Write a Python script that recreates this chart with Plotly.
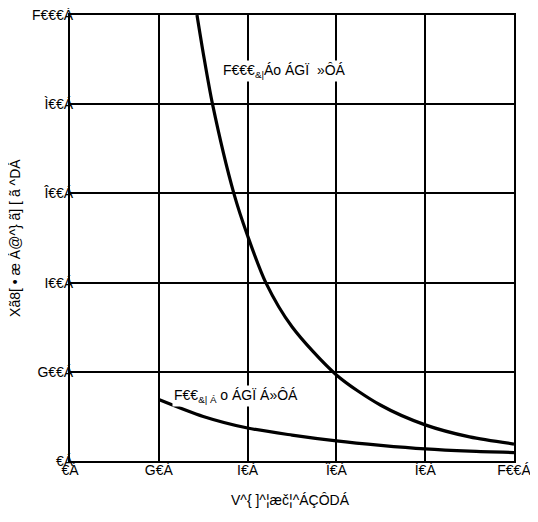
import plotly.graph_objects as go

# Upper curve (label "F€€€&|Áo ÁGÏ »ÔÁ")
upper_x = [28.6, 30.0, 32.1, 36.9, 40.0, 44.1, 50.0, 60.0, 70.0, 80.0, 90.0, 100.0]
upper_y = [1000, 915, 800, 600, 505, 400, 301, 193, 125, 81, 54, 38]

# Lower curve (label "F€€&|Á o ÁGÏ Á»ÔÁ")
lower_x = [20, 30, 40, 50, 60, 70, 80, 90, 100]
lower_y = [138, 100, 74, 58, 45, 35, 27, 22, 19]

x_tickvals = [0, 20, 40, 60, 80, 100]
x_ticktext = ["€Á", "G€Á", "I€Á", "Î€Á", "Ì€Á", "F€€Á"]
y_tickvals = [0, 200, 400, 600, 800, 1000]
y_ticktext = ["€Á", "G€€Á", "I€€Á", "Î€€Á", "Ì€€Á", "F€€€Á"]

x_title = "V^{ ]^¦æč¦^ÁÇÔDÁ"
y_title = "Xã8[ • æ Á@^} ã] [ ã ^DÁ"
label_upper = "F€€€<sub>&|</sub>Áo ÁGÏ  »ÔÁ"
label_lower = "F€€<sub>&| Á</sub> o ÁGÏ Á»ÔÁ"

FONT = "Liberation Sans, Arial, sans-serif"
TXT = dict(family=FONT, size=14, color="black")

fig = go.Figure()
fig.add_trace(go.Scatter(x=upper_x, y=upper_y, mode="lines",
                         line=dict(color="black", width=3.2, shape="spline", smoothing=0.8),
                         showlegend=False))
fig.add_trace(go.Scatter(x=lower_x, y=lower_y, mode="lines",
                         line=dict(color="black", width=3.2, shape="spline", smoothing=0.8),
                         showlegend=False))

fig.add_annotation(x=48.4, y=874, text=label_upper, showarrow=False,
                   font=TXT, bgcolor="white")
fig.add_annotation(x=37.4, y=146, text=label_lower, showarrow=False,
                   font=TXT, bgcolor="white")

# axis titles
fig.add_annotation(xref="paper", yref="paper", x=0.497, y=-0.087, text=x_title,
                   showarrow=False, font=TXT, xanchor="center", yanchor="middle")
fig.add_annotation(xref="paper", yref="paper", x=-0.124, y=0.5, text=y_title,
                   showarrow=False, font=TXT, textangle=-90,
                   xanchor="center", yanchor="middle")

fig.update_xaxes(range=[0, 100], tickvals=x_tickvals, ticktext=x_ticktext,
                 showgrid=True, gridcolor="black", gridwidth=1.5,
                 showline=True, linecolor="black", linewidth=2, mirror=True,
                 zeroline=False, ticks="", ticklabelstandoff=-5,
                 ticklabeloverflow="allow", tickfont=TXT)
fig.update_yaxes(range=[0, 1000], tickvals=y_tickvals, ticktext=y_ticktext,
                 showgrid=True, gridcolor="black", gridwidth=1.5,
                 showline=True, linecolor="black", linewidth=2, mirror=True,
                 zeroline=False, ticks="", ticklabelstandoff=-8,
                 ticklabeloverflow="allow", tickfont=TXT)

fig.update_layout(width=530, height=514, plot_bgcolor="white", paper_bgcolor="white",
                  margin=dict(l=62, r=24, t=7, b=61, autoexpand=False),
                  font=dict(family=FONT, color="black"))

fig.write_html("out.html")
